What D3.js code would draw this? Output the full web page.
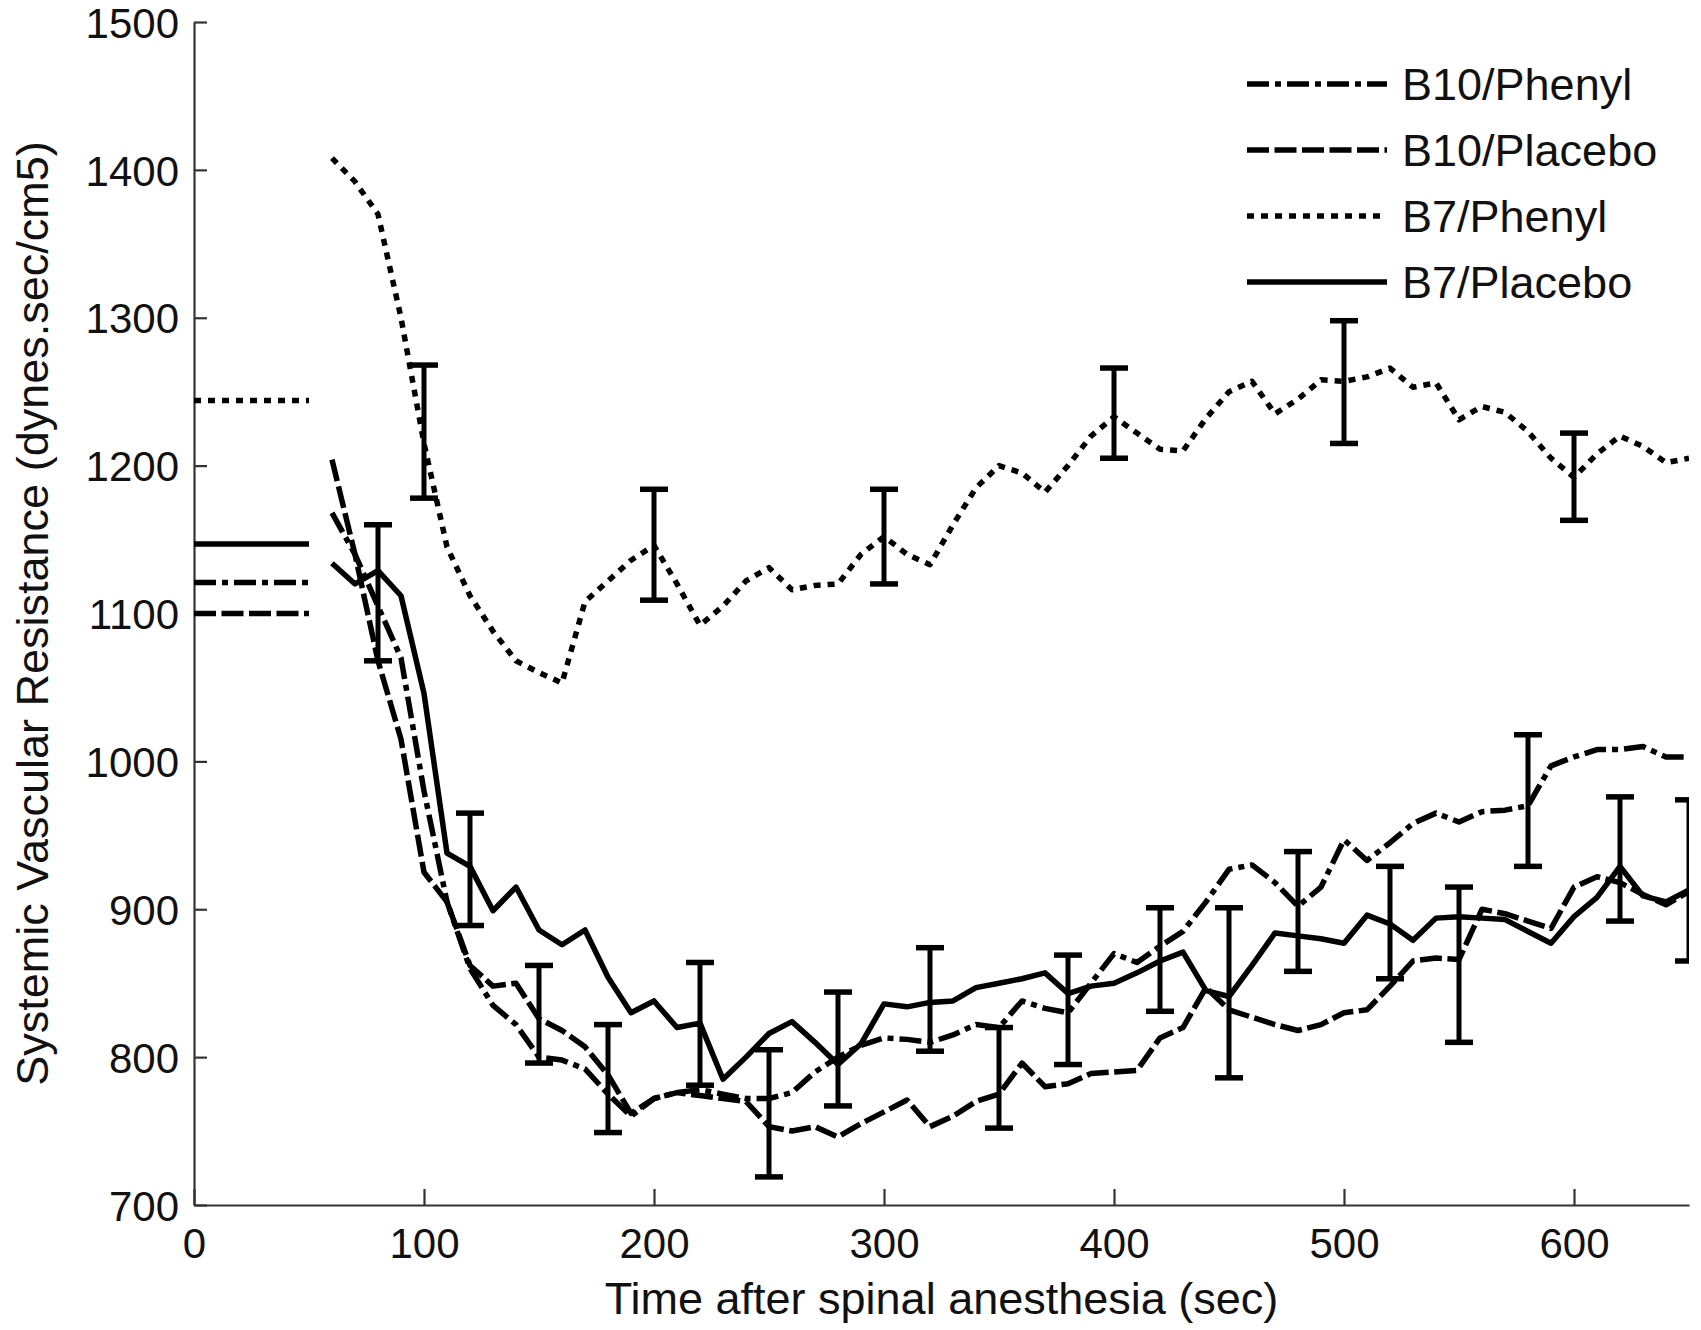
<!DOCTYPE html>
<html>
<head>
<meta charset="utf-8">
<script src="https://cdn.jsdelivr.net/npm/d3@7"></script>
<style>
  body { margin: 0; background: #fff; }
  text { font-family: "Liberation Sans", Arial, sans-serif; fill: #111; }
</style>
</head>
<body>
<div id="chart-area"></div>
<script>
/*
*    SVR after spinal anesthesia
*/

// time points (sec)
let times = [60, 70, 80, 90, 100, 110, 120, 130, 140, 150,
    160, 170, 180, 190, 200, 210, 220, 230, 240, 250,
    260, 270, 280, 290, 300, 310, 320, 330, 340, 350,
    360, 370, 380, 390, 400, 410, 420, 430, 440, 450,
    460, 470, 480, 490, 500, 510, 520, 530, 540, 550,
    560, 570, 580, 590, 600, 610, 620, 630, 640, 650];

let b10Phenyl = [1168, 1140, 1105, 1070, 980, 905, 860, 835, 822, 800,
    798, 792, 775, 760, 772, 776, 778, 775, 772, 772,
    776, 790, 800, 808, 813, 812, 810, 815, 822, 820,
    838, 833, 830, 850, 870, 864, 875, 885, 905, 927,
    930, 918, 902, 915, 947, 933, 945, 958, 965, 959,
    966, 967, 970, 997, 1003, 1008, 1008, 1010, 1003, 1003];

let b10Placebo = [1204, 1140, 1068, 1015, 925, 905, 862, 848, 850, 826,
    818, 807, 788, 762, 772, 776, 774, 772, 770, 753,
    750, 753, 746, 755, 763, 771, 753, 760, 770, 775,
    796, 780, 782, 789, 790, 791, 813, 820, 847, 832,
    827, 822, 818, 822, 830, 832, 848, 865, 867, 866,
    900, 897, 892, 887, 915, 922, 918, 910, 903, 912];

let b7Phenyl = [1408, 1392, 1370, 1300, 1215, 1145, 1112, 1088, 1068, 1060,
    1053, 1108, 1122, 1136, 1146, 1120, 1092, 1105, 1122, 1131,
    1116, 1119, 1120, 1140, 1152, 1140, 1133, 1160, 1185, 1200,
    1195, 1182, 1200, 1220, 1233, 1222, 1211, 1210, 1232, 1250,
    1257, 1235, 1245, 1258, 1257, 1260, 1266, 1253, 1256, 1231,
    1240, 1236, 1223, 1205, 1192, 1208, 1220, 1213, 1202, 1205];

let b7Placebo = [1134, 1120, 1129, 1112, 1046, 938, 929, 899, 915, 886,
    876, 886, 854, 830, 838, 820, 823, 785, 800, 816,
    824, 810, 795, 809, 836, 834, 837, 838, 847, 850,
    853, 857, 843, 848, 850, 857, 865, 871, 845, 841,
    862, 884, 882, 880, 877, 896, 890, 879, 894, 895,
    894, 893, 885, 877, 895, 908, 929, 909, 905, 913];

// baseline (pre-anesthesia) values, drawn from 0 to 50 sec
let baselineTimes = [0, 50];
let baselines = [1121, 1100, 1244, 1147];

// error bars
let errTimes = [80, 100, 120, 150, 180, 200, 220, 250, 280, 300, 320, 350,
    380, 400, 420, 450, 480, 500, 520, 550, 580, 600, 620, 650];
let errLow = [1068, 1178, 889, 796, 749, 1109, 781, 719, 767, 1120, 804, 752,
    795, 1205, 831, 786, 858, 1215, 853, 810, 929, 1163, 892, 865];
let errHigh = [1160, 1268, 965, 862, 822, 1184, 864, 805, 844, 1184, 874, 820,
    869, 1266, 901, 901, 939, 1298, 929, 915, 1018, 1222, 976, 974];

let seriesNames = ["B10/Phenyl", "B10/Placebo", "B7/Phenyl", "B7/Placebo"];
let seriesValues = [b10Phenyl, b10Placebo, b7Phenyl, b7Placebo];
let seriesDash = ["22,6,6,6", "22,5.5", "7,7", null];

let xTicks = [0, 100, 200, 300, 400, 500, 600];
let yTicks = [700, 800, 900, 1000, 1100, 1200, 1300, 1400, 1500];

let margin = { left: 194, right: 12, top: 22, bottom: 125 };

let width = 1701 - margin.left - margin.right,
    height = 1330 - margin.top - margin.bottom;

let svg = d3.select("#chart-area")
    .append("svg")
    .attr("width", 1701)
    .attr("height", 1330);

let g = svg.append("g")
    .attr("transform", "translate(" + margin.left + "," + margin.top + ")");

// X Scale
let x = d3.scaleLinear()
    .domain([0, 650])
    .range([0, width]);

// Y Scale
let y = d3.scaleLinear()
    .domain([700, 1500])
    .range([height, 0]);

svg.append("defs").append("clipPath")
    .attr("id", "plot-clip")
    .append("rect")
    .attr("x", 0)
    .attr("y", -10)
    .attr("width", width)
    .attr("height", height + 10);

// X Axis
let xAxisCall = d3.axisBottom(x)
    .tickValues(xTicks)
    .tickFormat(d3.format("d"))
    .tickSizeInner(-16)
    .tickSizeOuter(0)
    .tickPadding(23);
let xAxis = g.append("g")
    .attr("class", "x axis")
    .attr("transform", "translate(0," + height + ")")
    .call(xAxisCall);

// Y Axis
let yAxisCall = d3.axisLeft(y)
    .tickValues(yTicks)
    .tickFormat(d3.format("d"))
    .tickSizeInner(-13)
    .tickSizeOuter(0)
    .tickPadding(15);
let yAxis = g.append("g")
    .attr("class", "y axis")
    .call(yAxisCall);

[xAxis, yAxis].forEach(function(a){
    a.selectAll("path, line")
        .attr("stroke", "#333")
        .attr("stroke-width", 2.2);
    a.selectAll("text")
        .attr("font-size", "42px")
        .attr("font-family", "'Liberation Sans', Arial, sans-serif")
        .attr("fill", "#111");
});
yAxis.selectAll("text").attr("dy", "0.36em");

// X Label
g.append("text")
    .attr("x", width / 2)
    .attr("y", height + 109)
    .attr("font-size", "45px")
    .attr("text-anchor", "middle")
    .text("Time after spinal anesthesia (sec)");

// Y Label
g.append("text")
    .attr("transform", "translate(" + (48 - margin.left) + "," + (height / 2) + ") rotate(-90)")
    .attr("font-size", "45px")
    .attr("text-anchor", "middle")
    .text("Systemic Vascular Resistance (dynes.sec/cm5)");

let plot = g.append("g")
    .attr("clip-path", "url(#plot-clip)");

// Baseline segments
seriesNames.forEach(function(name, i){
    plot.append("line")
        .attr("x1", x(baselineTimes[0]))
        .attr("x2", x(baselineTimes[1]))
        .attr("y1", y(baselines[i]))
        .attr("y2", y(baselines[i]))
        .attr("stroke", "#000")
        .attr("stroke-width", 5.5)
        .attr("stroke-dasharray", seriesDash[i]);
});

// Lines
let line = d3.line()
    .x(function(d, i){ return x(times[i]) })
    .y(function(d){ return y(d) });

seriesValues.forEach(function(vals, i){
    plot.append("path")
        .datum(vals)
        .attr("fill", "none")
        .attr("stroke", "#000")
        .attr("stroke-width", 5.5)
        .attr("stroke-linejoin", "round")
        .attr("stroke-dasharray", seriesDash[i])
        .attr("d", line);
});

// Error bars
let capW = 14;
let bars = plot.selectAll(".err")
    .data(errTimes)
    .enter()
    .append("g")
    .attr("class", "err");

bars.append("line")
    .attr("x1", function(d){ return x(d) })
    .attr("x2", function(d){ return x(d) })
    .attr("y1", function(d, i){ return y(errLow[i]) })
    .attr("y2", function(d, i){ return y(errHigh[i]) })
    .attr("stroke", "#000")
    .attr("stroke-width", 5);

bars.append("line")
    .attr("x1", function(d){ return x(d) - capW })
    .attr("x2", function(d){ return x(d) + capW })
    .attr("y1", function(d, i){ return y(errHigh[i]) })
    .attr("y2", function(d, i){ return y(errHigh[i]) })
    .attr("stroke", "#000")
    .attr("stroke-width", 5.5);

bars.append("line")
    .attr("x1", function(d){ return x(d) - capW })
    .attr("x2", function(d){ return x(d) + capW })
    .attr("y1", function(d, i){ return y(errLow[i]) })
    .attr("y2", function(d, i){ return y(errLow[i]) })
    .attr("stroke", "#000")
    .attr("stroke-width", 5.5);

// Legend
let legend = svg.append("g")
    .attr("class", "legend");

let legendY = [84, 150, 216, 282];

seriesNames.forEach(function(name, i){
    legend.append("line")
        .attr("x1", 1247)
        .attr("x2", 1387)
        .attr("y1", legendY[i])
        .attr("y2", legendY[i])
        .attr("stroke", "#000")
        .attr("stroke-width", 5.5)
        .attr("stroke-dasharray", seriesDash[i]);
    legend.append("text")
        .attr("x", 1402)
        .attr("y", legendY[i])
        .attr("dy", "0.36em")
        .attr("font-size", "45px")
        .text(name);
});
</script>
</body>
</html>
